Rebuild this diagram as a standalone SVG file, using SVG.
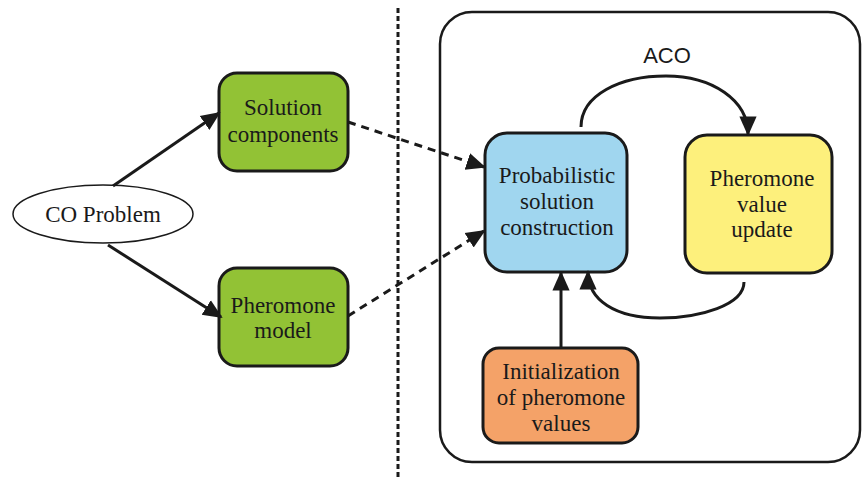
<svg xmlns="http://www.w3.org/2000/svg" width="863" height="480" viewBox="0 0 863 480">
  <style>
    .box { stroke: #1a1a1a; stroke-width: 3; }
    .lbl { font-family: 'Liberation Serif', 'DejaVu Serif', 'Times New Roman', serif; font-size: 23px; fill: #1a1a1a; text-anchor: middle; }
    .sans { font-family: 'Liberation Sans', Arial, sans-serif; font-size: 22px; fill: #1a1a1a; text-anchor: middle; }
    .edge { fill: none; stroke: #1a1a1a; stroke-width: 3; }
    .dash { fill: none; stroke: #1a1a1a; stroke-width: 3; stroke-dasharray: 8 6; }
  </style>
  <defs>
    <marker id="arrow" viewBox="0 0 10 10" refX="9" refY="5" markerWidth="6.5" markerHeight="6.5" markerUnits="strokeWidth" orient="auto">
      <path d="M0,0.6 L10,5 L0,9.4 z" fill="#1a1a1a"/>
    </marker>
  </defs>

  <rect width="863" height="480" fill="#ffffff"/>

  <!-- separator -->
  <line x1="398" y1="8" x2="398" y2="480" stroke="#1a1a1a" stroke-width="3" stroke-dasharray="5 3"/>

  <!-- ACO frame -->
  <g id="aco">
    <rect x="440" y="12" width="420" height="450" rx="32" fill="none" stroke="#1a1a1a" stroke-width="2.5"/>
    <text class="sans" x="667" y="63">ACO</text>
  </g>

  <g id="co-problem">
    <ellipse cx="103" cy="214" rx="90" ry="29" fill="#ffffff" stroke="#1a1a1a" stroke-width="1.5"/>
    <text class="lbl" x="103" y="222">CO Problem</text>
  </g>

  <g id="solution-components">
    <rect class="box" x="219" y="73" width="129" height="98" rx="18" fill="#92c235"/>
    <text class="lbl" x="283" y="115">Solution</text>
    <text class="lbl" x="283" y="142">components</text>
  </g>

  <g id="pheromone-model">
    <rect class="box" x="219" y="268" width="129" height="98" rx="18" fill="#92c235"/>
    <text class="lbl" x="283" y="313">Pheromone</text>
    <text class="lbl" x="283" y="338">model</text>
  </g>

  <g id="construction">
    <rect class="box" x="485" y="133" width="142" height="139" rx="22" fill="#a0d6ef"/>
    <text class="lbl" x="557" y="183">Probabilistic</text>
    <text class="lbl" x="557" y="209">solution</text>
    <text class="lbl" x="557" y="235">construction</text>
  </g>

  <g id="update">
    <rect class="box" x="685" y="135" width="147" height="138" rx="22" fill="#fdf07c"/>
    <text class="lbl" x="762" y="186">Pheromone</text>
    <text class="lbl" x="762" y="212">value</text>
    <text class="lbl" x="762" y="237">update</text>
  </g>

  <g id="initialization">
    <rect class="box" x="483" y="348" width="155" height="95" rx="16" fill="#f4a268"/>
    <text class="lbl" x="561" y="379">Initialization</text>
    <text class="lbl" x="561" y="405">of pheromone</text>
    <text class="lbl" x="561" y="431">values</text>
  </g>

  <g id="connectors">
    <line class="edge" x1="113" y1="186" x2="219" y2="113" marker-end="url(#arrow)"/>
    <line class="edge" x1="108" y1="245" x2="221" y2="317" marker-end="url(#arrow)"/>
    <line class="dash" x1="348" y1="122" x2="484" y2="167" marker-end="url(#arrow)"/>
    <line class="dash" x1="348" y1="316" x2="484" y2="231" marker-end="url(#arrow)"/>
    <path class="edge" d="M581,127 C581,95 620,76 666,76 C712,76 748,100 748,134" marker-end="url(#arrow)"/>
    <path class="edge" d="M744,282 C744,305 700,318 660,318 C615,318 588,300 588,272" marker-end="url(#arrow)"/>
    <line class="edge" x1="561" y1="348" x2="561" y2="273" marker-end="url(#arrow)"/>
  </g>
</svg>
